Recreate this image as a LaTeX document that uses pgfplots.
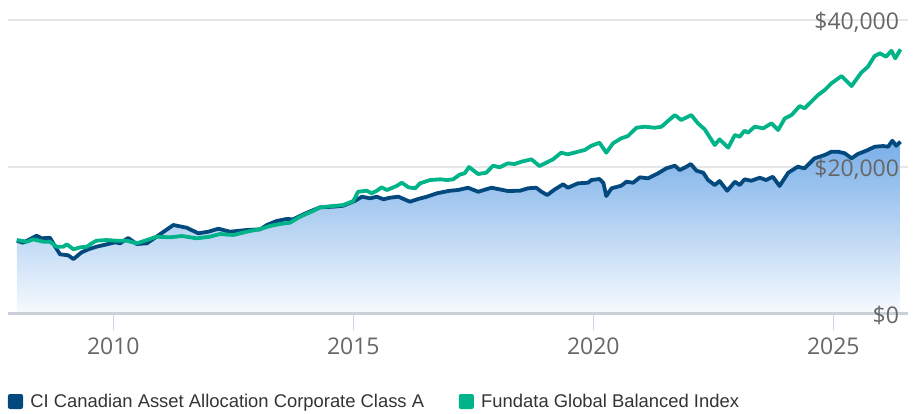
\documentclass[border=0pt]{standalone}
\usepackage{fontspec}
\setmainfont{Liberation Sans}
\newfontfamily\tickfont{Open Sans}
\usepackage{pgfplots}
\usepackage{pgfplotstable}
\pgfplotsset{compat=1.18}
\definecolor{ciblue}{HTML}{03497D}
\definecolor{fgreen}{HTML}{00B388}
\definecolor{gridgray}{HTML}{E6E6E6}
\definecolor{axisgray}{HTML}{CCD0D8}
\definecolor{tickgray}{HTML}{CCD6EB}
\definecolor{labelgray}{HTML}{666666}
\definecolor{legtext}{HTML}{333333}
\definecolor{filltop}{HTML}{78AEE8}
\definecolor{fillbot}{HTML}{F7FAFE}

\pgfplotsset{
 layers/mylayers/.define layer set={axis background,axis grid,axis ticks,pre main,main,axis lines,axis tick labels,axis descriptions,axis foreground}{
  grid style={/pgfplots/on layer=axis grid},
  tick style={/pgfplots/on layer=axis ticks},
  axis line style={/pgfplots/on layer=axis lines},
  label style={/pgfplots/on layer=axis descriptions},
  legend style={/pgfplots/on layer=axis descriptions},
  ticklabel style={/pgfplots/on layer=axis tick labels},
 },
}

\pgfplotstableread{
year value
2007.99 9910
2008.12 9637
2008.26 10101
2008.40 10592
2008.51 10238
2008.68 10319
2008.79 9091
2008.89 8054
2009.06 7917
2009.17 7412
2009.34 8327
2009.48 8736
2009.65 9091
2009.83 9364
2010.04 9692
2010.14 9555
2010.31 10278
2010.49 9459
2010.70 9555
2010.90 10456
2011.25 12053
2011.53 11684
2011.77 10920
2011.98 11138
2012.19 11548
2012.43 11138
2012.78 11370
2013.06 11466
2013.20 12053
2013.40 12599
2013.61 12872
2013.75 12831
2013.96 13514
2014.17 14100
2014.31 14469
2014.58 14551
2014.79 14687
2015.04 15370
2015.18 15916
2015.35 15698
2015.49 15916
2015.63 15561
2015.76 15779
2015.94 15916
2016.18 15233
2016.35 15602
2016.53 15916
2016.74 16380
2017.01 16735
2017.18 16830
2017.39 17144
2017.60 16598
2017.88 17144
2018.22 16694
2018.47 16735
2018.64 17063
2018.81 17144
2018.92 16598
2019.04 16148
2019.20 16926
2019.37 17609
2019.47 17144
2019.68 17745
2019.89 17827
2019.96 18195
2020.13 18332
2020.21 17786
2020.27 16011
2020.38 17063
2020.58 17417
2020.69 17963
2020.83 17827
2020.97 18564
2021.14 18428
2021.35 19110
2021.52 19793
2021.70 20147
2021.80 19560
2021.94 20011
2022.03 20379
2022.15 19465
2022.29 19192
2022.39 18195
2022.53 17513
2022.63 18059
2022.79 16735
2022.95 17963
2023.05 17513
2023.15 18291
2023.29 18100
2023.47 18509
2023.60 18195
2023.74 18646
2023.88 17376
2024.06 19192
2024.26 20011
2024.40 19793
2024.61 21158
2024.82 21608
2024.96 22058
2025.10 22058
2025.24 21840
2025.38 21158
2025.51 21744
2025.72 22290
2025.86 22741
2026.04 22836
2026.14 22741
2026.23 23560
2026.31 22877
2026.40 23423
}\cidata

\pgfplotstableread{
year value
2007.99 10005
2008.20 9773
2008.33 10101
2008.54 9773
2008.68 9773
2008.82 9091
2008.96 9091
2009.03 9419
2009.17 8736
2009.31 9009
2009.45 9091
2009.55 9555
2009.65 9910
2009.86 10005
2010.07 9910
2010.28 9910
2010.49 9555
2010.70 10005
2010.90 10456
2011.18 10374
2011.43 10551
2011.74 10238
2012.01 10456
2012.22 10824
2012.50 10688
2012.78 11138
2013.06 11507
2013.26 11916
2013.47 12189
2013.68 12367
2013.89 13186
2014.16 13964
2014.31 14469
2014.58 14646
2014.79 14783
2015.00 15329
2015.10 16598
2015.28 16735
2015.38 16380
2015.49 16735
2015.59 17199
2015.70 16830
2015.90 17376
2016.01 17827
2016.15 17199
2016.29 17063
2016.39 17745
2016.60 18195
2016.81 18291
2016.95 18195
2017.08 18291
2017.22 18946
2017.32 19110
2017.41 19970
2017.60 19014
2017.77 19192
2017.91 20147
2018.05 19929
2018.22 20475
2018.36 20379
2018.50 20693
2018.71 21021
2018.88 20106
2019.02 20557
2019.16 21021
2019.33 21922
2019.47 21704
2019.68 22058
2019.82 22290
2019.96 22877
2020.13 23287
2020.27 21922
2020.41 23205
2020.58 23888
2020.72 24201
2020.90 25334
2021.07 25471
2021.28 25334
2021.42 25471
2021.56 26290
2021.70 27068
2021.83 26385
2022.04 27068
2022.18 25935
2022.32 25116
2022.53 22973
2022.63 23751
2022.81 22604
2022.95 24338
2023.05 24106
2023.15 24925
2023.22 24652
2023.36 25471
2023.54 25253
2023.71 25935
2023.85 25020
2023.99 26618
2024.13 27068
2024.30 28296
2024.40 27983
2024.54 28883
2024.68 29798
2024.82 30480
2024.96 31395
2025.17 32391
2025.38 31026
2025.58 32842
2025.72 33661
2025.86 35121
2025.97 35490
2026.10 35026
2026.21 35845
2026.29 34808
2026.40 36036
}\fgdata

\begin{document}
\begin{tikzpicture}
\begin{axis}[
 name=ax, set layers=mylayers,
 scale only axis, width=900pt, height=307.65pt,
 xmin=2007.806, xmax=2026.556, ymin=0, ymax=42000,
 axis x line=bottom, axis y line=right,
 x axis line style={-, draw=axisgray, line width=3pt},
 y axis line style={draw=none},
 xtick={2010,2015,2020,2025}, xticklabels={2010,2015,2020,2025},
 xtick align=outside,
 xtick style={draw=tickgray, line width=1.3pt},
 major tick length=17pt,
 ytick={0,20000,40000}, yticklabels={{\$0},{\$20,000},{\$40,000}},
 ytick style={draw=none},
 scaled y ticks=false,
 ymajorgrids, major grid style={draw=gridgray, line width=2pt},
 ticklabel style={font=\tickfont\fontsize{23}{27}\selectfont, text=labelgray},
 xticklabel style={yshift=-3.5pt},
 yticklabel style={anchor=east, yshift=-2pt, xshift=-14pt},
 legend columns=2,
 legend image code/.code={\fill[#1, rounded corners=2pt] (0pt,-7.5pt) rectangle (15pt,7.5pt);},
 legend style={at={(0,0)}, anchor=west, yshift=-88.2pt, draw=none, fill=none,
   inner sep=0pt, outer sep=0pt, font=\fontsize{18.4}{22}\selectfont, text=legtext,
   nodes={inner sep=0pt},
   /tikz/every odd column/.append style={column sep=7.4pt},
   /tikz/every even column/.append style={column sep=34.7pt}},
 legend cell align=left,
]
\addplot[forget plot, draw=none, top color=filltop, bottom color=fillbot] table[x=year,y=value] {\cidata} \closedcycle;
\addplot[forget plot, draw=ciblue, line width=3.8pt, line join=round] table[x=year,y=value] {\cidata};
\addplot[forget plot, draw=fgreen, line width=3.8pt, line join=round] table[x=year,y=value] {\fgdata};
\addlegendimage{fill=ciblue, draw=none}
\addlegendentry{CI Canadian Asset Allocation Corporate Class A}
\addlegendimage{fill=fgreen, draw=none}
\addlegendentry{Fundata Global Balanced Index}
\end{axis}
\pgfresetboundingbox
\path ([shift={(-8pt,-99.7pt)}]ax.south west) rectangle ([shift={(10pt,5.65pt)}]ax.north east);
\end{tikzpicture}
\end{document}
